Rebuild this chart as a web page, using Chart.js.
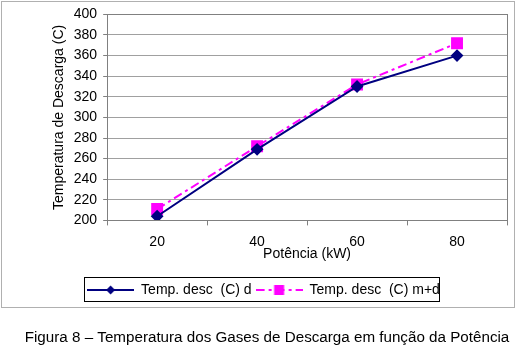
<!DOCTYPE html>
<html>
<head>
<meta charset="utf-8">
<script src="https://cdn.jsdelivr.net/npm/chart.js@4.4.0/dist/chart.umd.min.js"></script>
<style>
  html, body { margin: 0; padding: 0; background: #ffffff; }
  #wrap { width: 517px; height: 349px; }
</style>
</head>
<body>
<div id="wrap"><canvas id="myChart" width="517" height="349"></canvas></div>
<script>
// dados
const potencias = ["20", "40", "60", "80"];
const temp_d = [204, 269, 330, 360];
const temp_md = [211, 272, 332, 372];
const yTicks = { min: 200, max: 400, step: 20 };
const nomeD = "Temp. desc  (C) d";
const nomeMD = "Temp. desc  (C) m+d";
const tituloX = "Potência (kW)";
const tituloY = "Temperatura de Descarga (C)";
const legenda = "Figura 8 – Temperatura dos Gases de Descarga em função da Potência";

const fonte = "'Liberation Sans', Arial, sans-serif";
const corD = "#000080";
const corMD = "#ff00ff";

// imagem da legenda: linha + marcador
function iconeLegenda(cor, dash, forma) {
	const c = document.createElement("canvas");
	c.width = 47;
	c.height = 12;
	const g = c.getContext("2d");
	g.strokeStyle = cor;
	g.lineWidth = 2;
	g.setLineDash(dash);
	g.beginPath();
	g.moveTo(0, 6);
	g.lineTo(47, 6);
	g.stroke();
	g.fillStyle = cor;
	g.beginPath();
	if (forma === "diamante") {
		g.moveTo(23.5, 1.5);
		g.lineTo(28, 6);
		g.lineTo(23.5, 10.5);
		g.lineTo(19, 6);
		g.closePath();
	} else {
		g.rect(18.5, 1, 10, 10);
	}
	g.fill();
	return c;
}

const iconeD = iconeLegenda(corD, [], "diamante");
const iconeMD = iconeLegenda(corMD, [9, 4, 3, 4], "quadrado");

const molduraPlugin = {
	id: "moldura",
	afterDraw(chart) {
		const ctx = chart.ctx;
		const a = chart.chartArea;
		ctx.save();
		// borda da area do grafico
		ctx.strokeStyle = "#808080";
		ctx.lineWidth = 1;
		ctx.strokeRect(Math.round(a.left) + 0.5, Math.round(a.top) + 0.5,
			Math.round(a.right - a.left), Math.round(a.bottom - a.top));
		// caixa da legenda
		const boxes = chart.legend.legendHitBoxes;
		if (boxes && boxes.length) {
			let l = Infinity, r = -Infinity, t = Infinity, b = -Infinity;
			boxes.forEach(h => {
				l = Math.min(l, h.left); r = Math.max(r, h.left + h.width);
				t = Math.min(t, h.top); b = Math.max(b, h.top + h.height);
			});
			ctx.strokeStyle = "#000000";
			ctx.strokeRect(Math.round(l) - 2.5, Math.round(t) - 5.5,
				Math.round(r - l) + 2, Math.round(b - t) + 10);
		}
		// borda externa
		ctx.strokeStyle = "#b0b0b0";
		ctx.strokeRect(1.5, 1.5, 513, 306);
		// legenda da figura
		ctx.fillStyle = "#000000";
		ctx.font = "15.2px " + fonte;
		ctx.textAlign = "center";
		ctx.textBaseline = "middle";
		ctx.fillText(legenda, 267, 338);
		ctx.restore();
	}
};

const ctx1 = document.getElementById("myChart").getContext("2d");

let myChart = new Chart(ctx1, {
	type: "line",
	data: {
		labels: potencias,
		datasets: [
			{
				label: nomeD,
				data: temp_d,
				borderColor: corD,
				backgroundColor: corD,
				borderWidth: 2,
				pointStyle: "rectRot",
				pointRadius: 5,
				pointHoverRadius: 5,
				tension: 0,
			},
			{
				label: nomeMD,
				data: temp_md,
				borderColor: corMD,
				backgroundColor: corMD,
				borderWidth: 2,
				borderDash: [9, 4, 3, 4],
				pointStyle: "rect",
				pointRadius: 7,
				pointHoverRadius: 7,
				tension: 0,
			}
		],
	},
	options: {
		responsive: false,
		animation: false,
		layout: {
			padding: { left: 20, right: 10, top: 12, bottom: 42 }
		},
		scales: {
			y: {
				min: yTicks.min,
				max: yTicks.max,
				ticks: {
					stepSize: yTicks.step,
					color: "black",
					font: { family: fonte, size: 14 },
					padding: 6,
				},
				grid: {
					color: "#a0a0a0",
					tickColor: "#808080",
					tickLength: 4,
				},
				border: { color: "#808080" },
				title: {
					display: true,
					text: tituloY,
					color: "black",
					font: { family: fonte, size: 14 },
					padding: { top: 31, bottom: 0 },
				}
			},
			x: {
				offset: true,
				ticks: {
					color: "black",
					font: { family: fonte, size: 14 },
					padding: 8,
				},
				grid: {
					offset: true,
					drawOnChartArea: false,
					tickColor: "#808080",
					tickLength: 5,
				},
				border: { color: "#808080" },
				title: {
					display: true,
					text: tituloX,
					color: "black",
					font: { family: fonte, size: 14 },
					padding: { top: -12, bottom: 16 },
				}
			}
		},
		plugins: {
			legend: {
				position: "bottom",
				labels: {
					color: "black",
					font: { family: fonte, size: 14 },
					usePointStyle: true,
					pointStyleWidth: 47,
					padding: 4,
					generateLabels(chart) {
						return [
							{ text: nomeD, pointStyle: iconeD, fillStyle: corD, strokeStyle: corD, lineWidth: 0, datasetIndex: 0, fontColor: "black" },
							{ text: nomeMD, pointStyle: iconeMD, fillStyle: corMD, strokeStyle: corMD, lineWidth: 0, datasetIndex: 1, fontColor: "black" }
						];
					}
				}
			},
			tooltip: { enabled: false }
		}
	},
	plugins: [molduraPlugin]
});
</script>
</body>
</html>
